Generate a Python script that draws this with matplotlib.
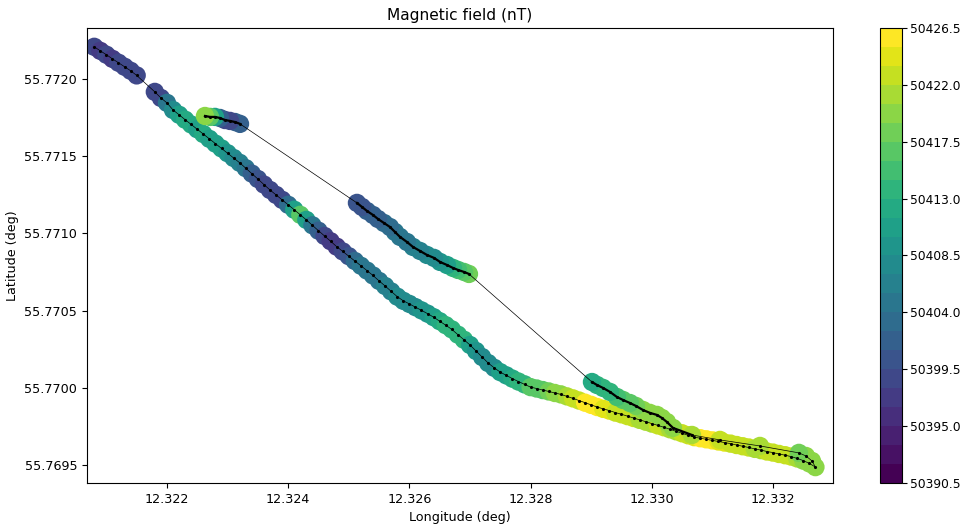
import numpy as np
import matplotlib
matplotlib.use("Agg")
import matplotlib.pyplot as plt
from matplotlib.colors import Normalize
from matplotlib.ticker import FormatStrFormatter

plt.rcParams['font.size'] = 9.2

# outbound pass (upper left -> lower right)
out_lon = [12.3208, 12.3209, 12.3210, 12.3211, 12.3212, 12.3213, 12.3214, 12.3215,
           12.3218, 12.3219, 12.3220, 12.3221, 12.3222, 12.3223, 12.3224, 12.3225,
           12.3226, 12.3227, 12.3228, 12.3229, 12.3230, 12.3231, 12.3232, 12.3233,
           12.3234, 12.3235, 12.3236, 12.3237, 12.3238, 12.3239, 12.3240, 12.3241,
           12.3242, 12.3243, 12.3244, 12.3245, 12.3246, 12.3247, 12.3248, 12.3249,
           12.3250, 12.3251, 12.3252, 12.3253, 12.3254, 12.3255, 12.3256, 12.3257,
           12.3258, 12.3259, 12.3260, 12.3261, 12.3262, 12.3263, 12.3264, 12.3265,
           12.3266, 12.3267, 12.3268, 12.3269, 12.3270, 12.3271, 12.3272, 12.3273,
           12.3274, 12.3275, 12.3276, 12.3277, 12.3278, 12.3279, 12.3280, 12.3281,
           12.3282, 12.3283, 12.3284, 12.3285, 12.3286, 12.3287, 12.3288, 12.3289,
           12.3290, 12.3291, 12.3292, 12.3293, 12.3294, 12.3295, 12.3296, 12.3297,
           12.3298, 12.3299, 12.3300, 12.3301, 12.3302, 12.3303, 12.3304, 12.3305,
           12.3306, 12.3307, 12.3308, 12.3309, 12.3310, 12.3311, 12.3312, 12.3313,
           12.3314, 12.3315, 12.3316, 12.3317, 12.3318, 12.3319, 12.3320, 12.3321,
           12.3322, 12.3323, 12.3324, 12.3325, 12.3326, 12.3327]
out_lat = [55.772208, 55.772182, 55.772157, 55.772130, 55.772105, 55.772079, 55.772053, 55.772023,
           55.771916, 55.771877, 55.771845, 55.771799, 55.771768, 55.771736, 55.771705, 55.771674,
           55.771643, 55.771612, 55.771581, 55.771550, 55.771519, 55.771488, 55.771457, 55.771422,
           55.771387, 55.771352, 55.771316, 55.771281, 55.771249, 55.771217, 55.771185, 55.771153,
           55.771120, 55.771087, 55.771052, 55.771017, 55.770983, 55.770949, 55.770914, 55.770883,
           55.770852, 55.770821, 55.770790, 55.770759, 55.770727, 55.770692, 55.770659, 55.770624,
           55.770590, 55.770563, 55.770543, 55.770522, 55.770501, 55.770480, 55.770457, 55.770431,
           55.770405, 55.770378, 55.770344, 55.770311, 55.770277, 55.770238, 55.770199, 55.770160,
           55.770129, 55.770101, 55.770080, 55.770059, 55.770040, 55.770022, 55.770004, 55.769995,
           55.769985, 55.769976, 55.769966, 55.769957, 55.769944, 55.769931, 55.769917, 55.769903,
           55.769889, 55.769875, 55.769863, 55.769852, 55.769839, 55.769828, 55.769816, 55.769804,
           55.769792, 55.769780, 55.769768, 55.769756, 55.769744, 55.769731, 55.769718, 55.769705,
           55.769692, 55.769680, 55.769673, 55.769666, 55.769659, 55.769652, 55.769645, 55.769638,
           55.769629, 55.769621, 55.769613, 55.769604, 55.769596, 55.769587, 55.769580, 55.769571,
           55.769563, 55.769554, 55.769542, 55.769528, 55.769510, 55.769486]
out_field = [50398, 50397, 50398, 50397, 50398, 50399, 50398, 50399,
             50399, 50399, 50404, 50408, 50411, 50412, 50412, 50411,
             50412, 50411, 50411, 50410, 50409, 50407, 50406, 50404,
             50402, 50400, 50399, 50398, 50398, 50399, 50403, 50410,
             50416, 50411, 50404, 50401, 50399, 50397, 50397, 50398,
             50400, 50403, 50404, 50405, 50404, 50405, 50406, 50406,
             50407, 50407, 50408, 50408, 50409, 50409, 50410, 50412,
             50413, 50414, 50414, 50413, 50411, 50409, 50408, 50407,
             50408, 50410, 50411, 50412, 50413, 50414, 50416, 50417,
             50417, 50418, 50419, 50420, 50421, 50422, 50423, 50425,
             50425, 50425, 50424, 50424, 50423, 50422, 50422, 50422,
             50421, 50421, 50421, 50422, 50422, 50421, 50421, 50422,
             50423, 50424, 50425, 50425, 50425, 50424, 50424, 50423,
             50423, 50422, 50422, 50421, 50421, 50422, 50422, 50422,
             50423, 50422, 50421, 50420, 50420, 50419]

# return pass (hook at the east end, then back north-west with gaps)
ret_lon = [12.332643, 12.332544, 12.332428, 12.331785, 12.331125, 12.330663,
           12.330349, 12.330250, 12.330168, 12.330085, 12.329970, 12.329854,
           12.329739, 12.329640, 12.329524, 12.329425, 12.329310, 12.329194,
           12.329095, 12.329013,
           12.326983, 12.326901, 12.326802, 12.326719, 12.326620, 12.326505,
           12.326406, 12.326290, 12.326175, 12.326059, 12.325960, 12.325845,
           12.325762, 12.325680, 12.325581, 12.325482, 12.325399, 12.325300,
           12.325218, 12.325135,
           12.323205, 12.323122, 12.323040, 12.322957, 12.322875, 12.322792,
           12.322710, 12.322627]
ret_lat = [55.769526, 55.769558, 55.769578, 55.769623, 55.769662, 55.769694,
           55.769740, 55.769778, 55.769804, 55.769824, 55.769837, 55.769856,
           55.769882, 55.769901, 55.769921, 55.769940, 55.769973, 55.769999,
           55.770018, 55.770037,
           55.770737, 55.770750, 55.770763, 55.770776, 55.770795, 55.770815,
           55.770841, 55.770860, 55.770886, 55.770912, 55.770944, 55.770977,
           55.771009, 55.771041, 55.771067, 55.771093, 55.771119, 55.771145,
           55.771171, 55.771197,
           55.771709, 55.771721, 55.771728, 55.771734, 55.771747, 55.771754,
           55.771754, 55.771760]
ret_field = [50420, 50419, 50418, 50421, 50422, 50421,
             50420, 50420, 50420, 50420, 50419, 50419,
             50418, 50417, 50416, 50415, 50414, 50413,
             50413, 50412,
             50418, 50417, 50415, 50413, 50411, 50409,
             50408, 50407, 50406, 50406, 50405, 50405,
             50404, 50403, 50403, 50402, 50401, 50401,
             50400, 50400,
             50402, 50401, 50399, 50399, 50401, 50410,
             50416, 50420]

field_min, field_max = 50390.5, 50426.5
n_levels = 24

lon = np.array(out_lon + ret_lon)
lat = np.array(out_lat + ret_lat)
field = np.array(out_field + ret_field, dtype=float)

fig = plt.figure(figsize=(9.62, 5.25), dpi=100)
ax = fig.add_axes([0.0904, 0.08, 0.7755, 0.8667])
cax = fig.add_axes([0.9148, 0.08, 0.0228, 0.8667])

cmap = plt.get_cmap('viridis', n_levels)
norm = Normalize(vmin=field_min, vmax=field_max)

sc = ax.scatter(lon, lat, c=field, cmap=cmap, norm=norm, s=175, linewidths=0)
ax.plot(lon, lat, 'k.-', lw=0.5, ms=2.5)
# return pass was logged more densely, so its trace looks heavier
ax.plot(ret_lon[5:20], ret_lat[5:20], 'k-', lw=1.6)
ax.plot(ret_lon[20:40], ret_lat[20:40], 'k-', lw=1.6)
ax.plot(ret_lon[40:], ret_lat[40:], 'k-', lw=1.6)

ax.set_xlim(12.32068, 12.33299)
ax.set_ylim(55.769383, 55.77233)
ax.set_xticks([12.322, 12.324, 12.326, 12.328, 12.330, 12.332])
ax.set_yticks([55.7695, 55.7700, 55.7705, 55.7710, 55.7715, 55.7720])
ax.xaxis.set_major_formatter(FormatStrFormatter('%.3f'))
ax.yaxis.set_major_formatter(FormatStrFormatter('%.4f'))
ax.set_xlabel('Longitude (deg)')
ax.set_ylabel('Latitude (deg)')
ax.set_title('Magnetic field (nT)')

cb = fig.colorbar(sc, cax=cax, ticks=np.linspace(field_min, field_max, 9))
cb.ax.yaxis.set_major_formatter(FormatStrFormatter('%.1f'))
cb.ax.tick_params(labelsize=8.8, pad=2)

fig.savefig('out.png', dpi=100)
